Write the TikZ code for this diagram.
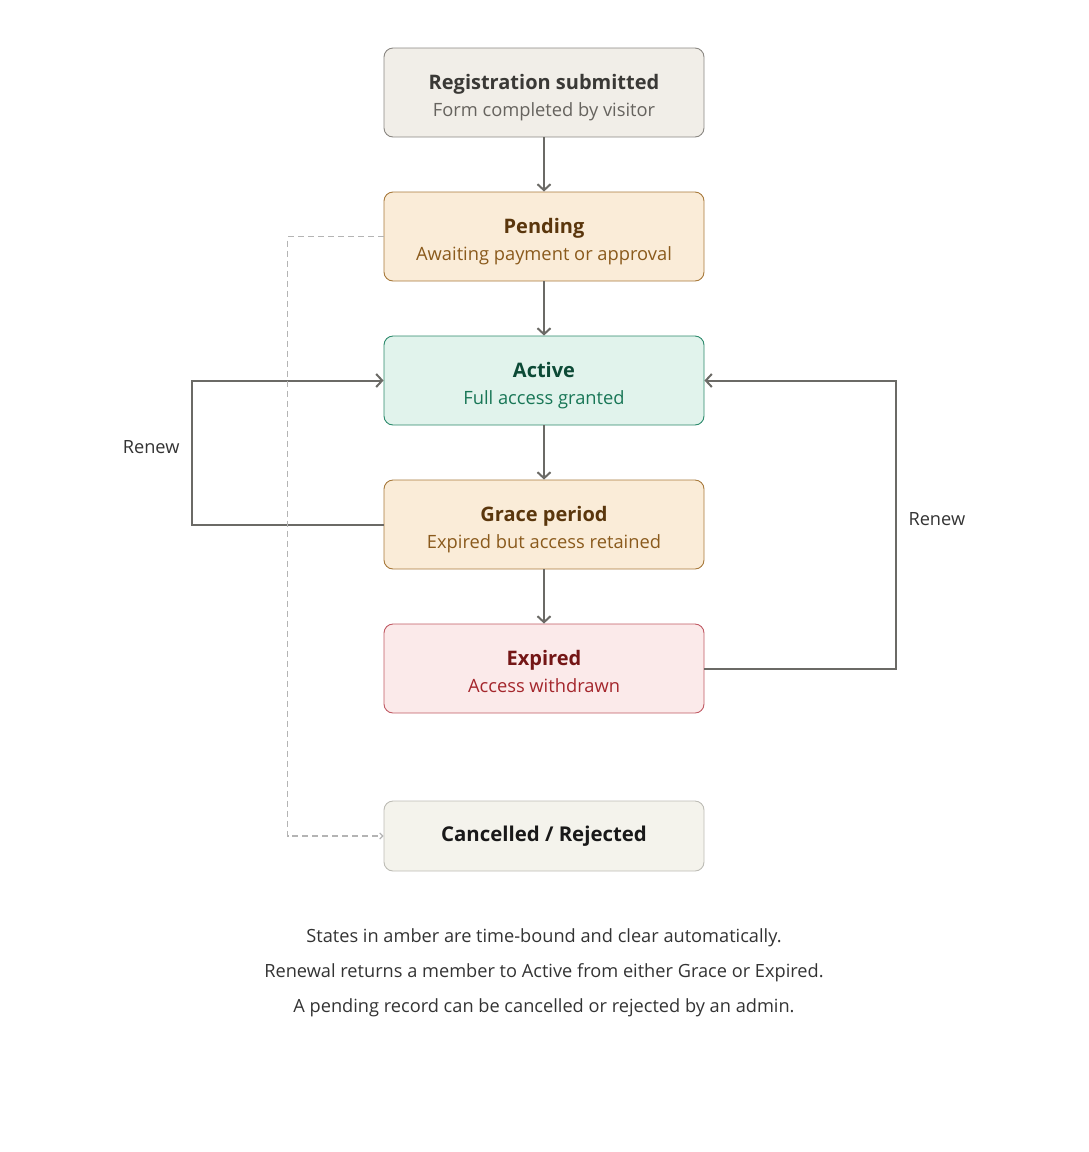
\documentclass[tikz,border=0pt]{standalone}
\usepackage{fontspec}
\setmainfont{Open Sans}
\usepackage{tikz}
\usetikzlibrary{arrows.meta,calc,positioning}
\usepackage{xcolor}

\definecolor{regfill}{HTML}{F1EEE8}
\definecolor{regline}{HTML}{8A8782}
\definecolor{regtitle}{HTML}{3A3936}
\definecolor{regsub}{HTML}{66635E}
\definecolor{ambfill}{HTML}{FAECD8}
\definecolor{ambline}{HTML}{A87A3C}
\definecolor{ambtitle}{HTML}{5A360C}
\definecolor{ambsub}{HTML}{8A5A1C}
\definecolor{actfill}{HTML}{E1F3EC}
\definecolor{actline}{HTML}{2C8A6C}
\definecolor{acttitle}{HTML}{0C4A36}
\definecolor{actsub}{HTML}{187656}
\definecolor{expfill}{HTML}{FBEAEA}
\definecolor{expline}{HTML}{C05A64}
\definecolor{exptitle}{HTML}{741616}
\definecolor{expsub}{HTML}{A4262C}
\definecolor{canfill}{HTML}{F4F3EC}
\definecolor{canline}{HTML}{BDBCB5}
\definecolor{wire}{HTML}{6B6A66}
\definecolor{dashwire}{HTML}{B4B4B4}
\definecolor{note}{HTML}{333333}

\begin{document}
\begin{tikzpicture}[x=1pt, y=-1pt,
  state/.style={draw, line width=0.9pt, rounded corners=9pt, minimum width=320pt, minimum height=89pt, inner sep=0pt},
  title/.style={anchor=base, yshift=3.5pt, font=\fontsize{20}{24}\selectfont\bfseries},
  subtitle/.style={anchor=base, yshift=-24pt, font=\fontsize{18.3}{22}\selectfont},
  flow/.style={draw=wire, line width=2pt, -{Straight Barb[length=6pt,width=13pt,line width=2pt]}},
  lbl/.style={font=\fontsize{18.2}{22}\selectfont, text=note}]

\useasboundingbox (0,0) rectangle (1088,1152);

% states
\foreach \nm/\yy/\cl/\ttl/\sub in {
    reg/92.5/reg/Registration submitted/Form completed by visitor,
    pen/236.5/amb/Pending/Awaiting payment or approval,
    act/380.5/act/Active/Full access granted,
    gra/524.5/amb/Grace period/Expired but access retained,
    exp/668.5/exp/Expired/Access withdrawn}{
  \node[state, fill=\cl fill, draw=\cl line] (\nm) at (544,\yy) {};
  \node[title, text=\cl title] (\nm-t) at (\nm.center) {\ttl};
  \node[subtitle, text=\cl sub] (\nm-s) at (\nm.center) {\sub};
}
\node[state, fill=canfill, draw=canline, minimum height=70pt, font=\fontsize{20.4}{24}\selectfont\bfseries, text=black!90] (can) at (544,836)
  {Cancelled / Rejected};

% main chain
\draw[flow] (reg) -- (pen);
\draw[flow] (pen) -- (act);
\draw[flow] (act) -- (gra);
\draw[flow] (gra) -- (exp);

% renew loops
\draw[flow] (gra.west) -- ++(-192,0) |- (act.west);
\draw[flow] (exp.east) -- ++(192,0) |- (act.east);
\node[lbl, anchor=east] (renl) at (183,447) {Renew};
\node[lbl, anchor=west] (renr) at (905,519) {Renew};

% cancel / reject
\draw[draw=dashwire, line width=1.5pt, dash pattern=on 6pt off 4pt, -{Straight Barb[length=3pt,width=6pt,line width=1.2pt]}]
  (pen.west) -- ++(-96,0) |- (can.west);

% notes
\node[lbl] (n1) at (544,938) {States in amber are time-bound and clear automatically.};
\node[lbl] (n2) at (544,973) {Renewal returns a member to Active from either Grace or Expired.};
\node[lbl] (n3) at (544,1008) {A pending record can be cancelled or rejected by an admin.};

\end{tikzpicture}
\end{document}
